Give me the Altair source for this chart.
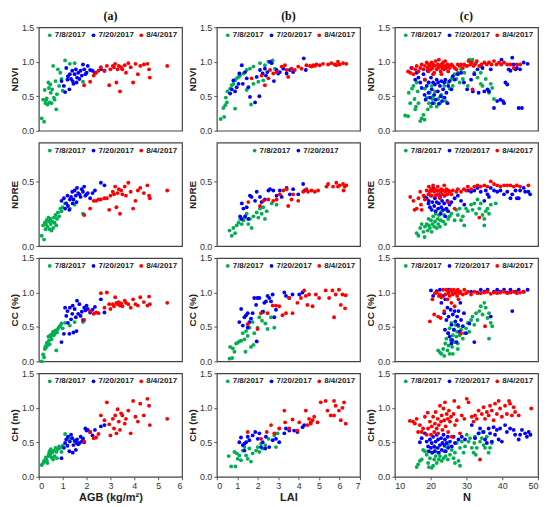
import altair as alt
import pandas as pd

dates = ["7/8/2017", "7/20/2017", "8/4/2017"]
colors = ["#00B050", "#0000FF", "#FF0000"]

# ---------------- column (a): AGB (shared samples across rows) ----------------
agb_g = [0.12,0.18,0.22,0.25,0.28,0.3,0.33,0.36,0.4,0.42,0.45,0.48,0.5,0.53,0.56,
         0.6,0.63,0.66,0.7,0.73,0.76,0.8,0.85,0.9,0.95,1.0,1.1,1.3,1.5,1.85]
ndvi_a_g = [0.18,0.45,0.13,0.59,0.40,0.44,0.47,0.38,0.70,0.62,0.41,0.67,0.55,0.40,0.60,
            0.94,0.48,0.45,0.72,0.31,0.53,0.89,0.65,0.84,0.75,0.58,1.02,0.97,0.98,0.71]
ndre_a_g = [0.08,0.16,0.05,0.18,0.13,0.17,0.20,0.15,0.22,0.19,0.13,0.21,0.17,0.12,0.19,
            0.14,0.22,0.18,0.24,0.16,0.21,0.26,0.23,0.29,0.27,0.30,0.33,0.29,0.32,0.25]
cc_a_g = [0.0,0.10,0.06,0.18,0.22,0.20,0.27,0.23,0.36,0.30,0.25,0.38,0.35,0.32,0.40,
          0.43,0.38,0.40,0.45,0.16,0.42,0.47,0.50,0.52,0.55,0.48,0.56,0.52,0.57,0.57]
ch_a_g = [0.17,0.20,0.23,0.22,0.25,0.28,0.24,0.20,0.30,0.33,0.37,0.32,0.40,0.28,0.35,
          0.25,0.38,0.30,0.42,0.36,0.27,0.40,0.44,0.42,0.36,0.45,0.62,0.55,0.52,0.56]

agb_b = [0.95,1.05,1.1,1.15,1.2,1.22,1.28,1.3,1.35,1.4,1.42,1.45,1.5,1.55,1.58,
         1.6,1.65,1.7,1.75,1.8,1.85,1.9,1.95,2.0,2.05,2.15,2.25,2.35,2.6,2.75]
ndvi_a_b = [0.72,0.65,0.56,0.91,0.74,0.79,0.60,0.82,0.75,0.87,0.72,0.68,0.82,0.89,0.70,
            0.77,0.84,0.75,0.87,0.80,0.96,0.89,0.82,0.84,0.94,0.88,0.87,0.84,0.89,0.87]
ndre_a_b = [0.35,0.37,0.29,0.33,0.39,0.31,0.28,0.36,0.38,0.42,0.33,0.36,0.43,0.39,0.34,
            0.45,0.41,0.40,0.38,0.44,0.42,0.46,0.39,0.40,0.41,0.37,0.41,0.43,0.49,0.47]
cc_a_b = [0.28,0.40,0.78,0.66,0.73,0.56,0.40,0.78,0.61,0.69,0.81,0.42,0.76,0.64,0.44,
          0.88,0.69,0.83,0.66,0.72,0.60,0.78,0.74,0.81,0.76,0.71,0.75,0.79,0.90,0.71]
ch_a_b = [0.27,0.42,0.49,0.54,0.45,0.58,0.37,0.51,0.61,0.56,0.35,0.46,0.52,0.39,0.49,
          0.54,0.47,0.49,0.58,0.51,0.55,0.50,0.70,0.67,0.68,0.65,0.60,0.68,0.73,0.75]

agb_r = [1.9,2.15,2.3,2.4,2.5,2.6,2.75,2.85,2.95,3.0,3.1,3.15,3.2,3.25,3.3,3.35,
         3.4,3.45,3.5,3.6,3.65,3.75,3.85,3.95,4.05,4.15,4.25,4.4,4.55,4.62,4.65,5.38]
ndvi_a_r = [0.66,0.71,0.80,0.84,0.87,0.92,0.87,0.94,0.66,0.89,0.94,0.92,0.97,0.70,0.89,0.94,
            0.57,0.92,0.89,0.95,0.84,0.98,0.92,0.70,0.97,0.82,0.94,0.96,0.97,0.89,0.77,0.94]
ndre_a_r = [0.24,0.29,0.35,0.35,0.36,0.36,0.37,0.37,0.28,0.39,0.42,0.40,0.46,0.30,0.41,0.44,
            0.25,0.43,0.40,0.46,0.39,0.49,0.42,0.29,0.35,0.43,0.45,0.41,0.47,0.39,0.37,0.43]
cc_a_r = [0.60,0.73,0.69,0.71,0.70,0.99,0.78,1.0,0.83,0.76,0.83,0.80,0.93,0.85,0.83,0.86,
          0.81,0.84,0.80,0.88,0.85,0.83,0.78,0.90,0.83,0.81,0.93,0.86,0.81,0.94,0.83,0.85]
ch_a_r = [0.51,0.65,0.56,0.57,0.62,0.89,0.82,1.08,0.76,0.60,0.84,0.70,0.89,0.63,0.98,0.80,
          0.68,0.92,0.89,0.77,0.84,0.96,0.63,1.10,0.87,0.80,1.06,0.89,1.13,1.03,0.75,0.84]

# ---------------- column (b): LAI ----------------
lai_ndvi_g = [(0.19,0.17),(0.36,0.20),(0.32,0.33),(0.41,0.37),(0.49,0.41),(0.44,0.48),(0.52,0.57),
              (0.65,0.61),(0.73,0.66),(0.81,0.68),(0.89,0.73),(0.97,0.76),(1.06,0.78),(1.14,0.80),
              (1.3,0.83),(1.46,0.88),(1.62,0.90),(1.79,0.93),(2.11,0.98),(2.35,0.95),(2.52,1.0),
              (2.73,1.02),(2.84,0.90),(0.89,0.32),(1.67,0.38),(1.46,0.59),(1.79,0.68),(2.03,0.71),(2.27,0.73)]
lai_ndvi_b = [(0.65,0.54),(0.73,0.60),(0.81,0.73),(0.89,0.57),(0.97,0.63),(1.10,0.83),(1.22,0.95),
              (1.27,0.68),(1.38,0.85),(1.46,0.76),(1.54,0.63),(1.62,0.49),(1.87,0.41),(1.95,0.78),
              (2.08,0.50),(2.11,0.88),(2.24,0.83),(2.35,0.90),(2.47,0.85),(2.6,1.0),(2.68,0.98),
              (2.79,0.72),(2.92,0.88),(3.08,0.85),(3.25,0.90),(3.41,0.83),(3.57,0.88),(3.73,0.85),
              (4.25,1.05),(4.35,0.88),(3.0,0.83),(1.06,0.68),(2.4,0.80)]
lai_ndvi_r = [(1.7,0.76),(2.19,0.80),(2.35,0.66),(2.52,0.76),(2.6,0.88),(2.76,0.83),(2.92,0.85),
              (3.17,0.93),(3.33,0.95),(3.41,0.88),(3.49,0.78),(3.65,0.90),(3.81,0.88),(3.98,0.93),
              (4.14,0.90),(4.38,0.95),(4.55,0.94),(4.71,0.95),(4.87,0.96),(5.03,0.95),(5.19,0.97),
              (5.44,0.96),(5.6,0.98),(5.76,0.96),(5.92,1.0),(6.0,0.96),(6.17,0.98),(6.33,0.97),
              (5.84,0.95),(4.63,0.93),(4.79,0.94)]

lai_ndre_g = [(0.62,0.12),(0.73,0.08),(0.81,0.14),(0.89,0.10),(0.97,0.16),(1.06,0.18),(1.14,0.21),
              (1.22,0.17),(1.3,0.20),(1.38,0.22),(1.46,0.25),(1.54,0.17),(1.62,0.21),(1.7,0.14),
              (1.79,0.23),(1.95,0.26),(2.03,0.22),(2.11,0.29),(2.19,0.25),(2.27,0.30),(2.35,0.21),
              (2.44,0.27),(2.68,0.33),(2.92,0.32)]
lai_ndre_b = [(1.14,0.23),(1.22,0.33),(1.3,0.29),(1.46,0.30),(1.62,0.39),(1.7,0.38),(1.87,0.35),
              (1.95,0.42),(2.11,0.38),(2.19,0.34),(2.35,0.36),(2.52,0.43),(2.6,0.44),(2.76,0.43),
              (2.92,0.39),(3.08,0.43),(3.17,0.38),(3.41,0.45),(3.57,0.40),(3.73,0.44),(3.98,0.40),
              (4.22,0.48),(4.3,0.43),(1.38,0.23),(1.54,0.21),(1.22,0.21)]
lai_ndre_r = [(1.54,0.34),(2.11,0.31),(2.27,0.35),(2.52,0.36),(2.76,0.35),(2.92,0.36),(3.08,0.40),
              (3.25,0.43),(3.41,0.44),(3.49,0.31),(3.65,0.36),(3.73,0.40),(3.98,0.35),(4.22,0.42),
              (4.38,0.44),(4.46,0.42),(4.63,0.43),(4.79,0.42),(4.95,0.43),(5.36,0.46),(5.44,0.48),
              (5.68,0.46),(5.84,0.49),(5.92,0.46),(6.0,0.47),(6.17,0.48),(6.25,0.46),(6.33,0.47),(6.2,0.43)]

lai_cc_g = [(0.62,0.04),(0.75,0.05),(0.65,0.21),(0.78,0.19),(0.86,0.14),(0.94,0.26),(1.02,0.27),
            (1.1,0.29),(1.19,0.30),(1.27,0.41),(1.35,0.32),(1.43,0.44),(1.4,0.14),(1.51,0.37),
            (1.59,0.49),(1.67,0.21),(1.75,0.57),(1.83,0.41),(1.99,0.49),(2.08,0.64),(2.21,0.59),
            (2.29,0.72),(2.37,0.55),(2.48,0.47),(2.81,0.49),(2.65,0.64),(1.79,0.24)]
lai_cc_b = [(1.1,0.57),(1.19,0.76),(1.27,0.52),(1.35,0.64),(1.43,0.67),(1.51,0.70),(1.59,0.57),
            (1.67,0.62),(1.75,0.70),(1.83,0.92),(1.92,0.82),(1.99,0.92),(2.08,0.92),(2.24,0.72),
            (2.32,0.85),(2.4,0.87),(2.48,0.95),(2.56,0.92),(2.65,0.87),(2.73,0.97),(2.81,0.64),
            (2.89,0.75),(3.3,1.0),(3.38,0.95),(3.54,0.92),(3.7,0.97),(4.03,0.97),(4.19,1.0),
            (1.95,0.29),(1.51,0.49)]
lai_cc_r = [(1.51,0.54),(1.99,0.47),(2.16,0.70),(2.48,0.70),(2.73,0.81),(2.89,0.81),(3.05,0.80),
            (3.21,0.67),(3.38,0.70),(3.54,0.92),(3.7,0.70),(3.94,0.85),(4.11,0.92),(4.27,1.03),
            (4.35,0.95),(4.43,0.82),(4.51,0.97),(4.68,0.80),(4.84,0.97),(5.0,0.92),(5.32,1.03),
            (5.49,0.92),(5.65,1.03),(5.73,0.64),(5.81,0.97),(5.97,1.04),(6.06,0.82),(6.14,0.97),
            (6.27,0.77),(6.3,0.96)]

lai_ch_g = [(0.58,0.30),(0.7,0.15),(0.91,0.15),(0.86,0.36),(0.97,0.34),(1.02,0.26),(1.1,0.31),
            (1.18,0.24),(1.27,0.38),(1.35,0.43),(1.43,0.31),(1.51,0.26),(1.59,0.41),(1.67,0.22),
            (1.75,0.34),(1.92,0.38),(2.0,0.43),(2.08,0.36),(2.16,0.48),(2.24,0.41),(2.37,0.46),
            (2.53,0.55),(2.81,0.60),(2.89,0.43),(2.97,0.63)]
lai_ch_b = [(1.1,0.50),(1.18,0.57),(1.27,0.46),(1.35,0.38),(1.43,0.50),(1.51,0.58),(1.59,0.53),
            (1.75,0.60),(1.88,0.65),(2.0,0.55),(2.08,0.63),(2.16,0.43),(2.24,0.50),(2.4,0.58),
            (2.56,0.43),(2.73,0.53),(2.89,0.55),(3.05,0.50),(3.3,0.63),(3.38,0.70),(3.54,0.67),
            (3.78,0.67),(3.94,0.65),(4.19,0.72),(4.27,0.75),(2.37,0.41),(1.35,0.48)]
lai_ch_r = [(1.51,0.65),(2.16,0.55),(2.44,0.65),(2.65,0.75),(2.81,0.63),(3.05,0.70),(3.3,0.96),
            (3.34,0.79),(3.54,0.70),(3.7,0.83),(3.94,0.67),(4.03,0.79),(4.35,0.96),(4.43,0.75),
            (4.51,0.84),(4.59,0.79),(4.68,0.82),(4.76,0.87),(4.92,0.79),(5.08,1.08),(5.32,1.1),
            (5.41,0.96),(5.57,0.89),(5.73,1.1),(5.81,1.03),(5.97,0.96),(6.06,0.82),(6.14,1.0),
            (6.22,1.08),(6.3,0.77),(4.59,0.77),(5.73,0.89)]

# ---------------- column (c): N ----------------
n_ndvi_g = [(12.9,0.22),(13.7,0.21),(13.9,0.55),(14.3,0.40),(14.8,0.61),(15.2,0.65),(15.5,0.46),
            (15.7,0.31),(15.9,0.35),(16.1,0.70),(16.4,0.57),(16.6,0.40),(17.1,0.14),(17.5,0.18),
            (18.0,0.23),(18.3,0.16),(18.4,0.61),(18.9,0.48),(19.2,0.31),(19.4,0.70),(19.5,0.40),
            (19.8,0.55),(20.1,0.35),(20.3,0.65),(20.5,0.46),(20.7,0.50),(21.0,0.40),(21.2,0.57),
            (21.7,0.35),(22.1,0.46),(22.6,0.40),(23.0,0.52),(23.5,0.48),(23.8,0.65),(24.2,0.43),
            (24.9,0.70),(25.3,0.61),(25.8,0.75),(26.2,0.65),(26.7,0.82),(27.2,0.75),(27.6,0.84),
            (28.1,0.70),(28.5,0.89),(29.0,0.75),(29.4,0.84),(29.9,0.94),(30.4,0.65),(30.8,1.03),
            (31.3,1.01),(31.7,1.03),(32.2,0.84),(32.7,0.99),(33.1,0.77),(34.0,0.68),(34.5,0.65),
            (35.4,0.75),(36.3,0.55),(36.8,0.68),(37.2,0.62),(37.7,0.46),(34.0,0.84)]
n_ndvi_b = [(14.6,0.91),(15.7,0.74),(16.1,0.84),(16.6,0.77),(17.1,0.70),(17.5,0.62),(18.0,0.82),
            (18.3,0.52),(18.4,0.74),(18.6,0.45),(18.9,0.65),(19.2,0.87),(19.4,0.55),(19.5,0.70),
            (19.8,0.48),(20.1,0.77),(20.3,0.60),(20.5,0.40),(20.7,0.70),(21.0,0.52),(21.2,0.67),
            (21.4,0.45),(21.7,0.74),(22.0,0.57),(22.1,0.70),(22.3,0.39),(22.6,0.65),(22.8,0.50),
            (23.0,0.72),(23.2,0.43),(23.5,0.60),(23.8,0.70),(23.9,0.48),(24.1,0.74),(24.4,0.55),
            (24.7,0.40),(24.9,0.65),(25.3,0.72),(25.8,0.60),(26.2,0.79),(26.7,0.74),(27.6,0.82),
            (28.5,0.84),(29.3,0.70),(30.2,0.60),(31.3,0.74),(32.2,0.82),(33.1,0.89),(34.0,0.94),
            (34.5,0.91),(35.0,0.57),(35.9,0.60),(36.3,0.57),(36.8,0.89),(37.7,0.33),(38.6,0.43),
            (39.5,0.45),(39.8,1.03),(40.2,0.43),(40.5,0.40),(40.9,0.70),(41.4,0.67),(41.8,0.89),
            (42.3,0.87),(42.8,1.06),(43.2,0.96),(43.7,0.89),(44.1,0.91),(44.6,0.33),(45.0,0.89),
            (45.5,0.33),(46.0,0.99),(47.1,0.97),(31.8,0.57),(33.4,0.55)]
n_ndvi_r = [(13.7,0.86),(14.3,0.84),(14.8,0.91),(15.2,0.82),(15.7,0.89),(16.1,0.94),(16.6,0.86),
            (17.1,0.91),(17.5,0.96),(18.0,0.89),(18.4,0.94),(18.9,0.99),(19.2,0.91),(19.4,0.86),
            (19.5,0.96),(19.8,0.94),(20.1,0.89),(20.3,0.99),(20.5,0.91),(20.7,0.96),(21.0,0.84),
            (21.2,0.94),(21.4,1.01),(21.7,0.89),(22.0,0.96),(22.1,0.91),(22.3,1.03),(22.6,0.94),
            (22.8,0.86),(23.0,0.96),(23.2,0.91),(23.5,0.99),(23.8,0.89),(23.9,0.94),(24.1,1.01),
            (24.4,0.91),(24.7,0.96),(24.9,0.86),(25.0,0.94),(25.3,0.91),(25.8,0.96),(26.2,0.94),
            (26.7,0.91),(27.2,0.89),(27.6,0.96),(28.1,0.94),(28.5,0.96),(29.0,0.91),(29.4,0.96),
            (30.2,0.94),(30.6,1.01),(31.1,0.96),(31.5,0.99),(32.0,0.94),(31.7,0.60),(32.4,0.96),
            (32.9,1.01),(33.6,0.94),(34.2,0.96),(35.0,0.99),(35.7,0.96),(36.3,0.99),(37.0,0.96),
            (37.7,1.01),(38.4,0.96),(39.1,0.99),(39.7,0.96),(40.5,0.99),(41.4,0.96),(42.3,0.96),
            (43.2,0.91),(44.1,0.96),(45.0,0.96),(20.7,0.82),(23.0,0.82),(18.4,0.74)]

n_ndre_g = [(16.1,0.10),(16.6,0.08),(17.1,0.14),(17.5,0.17),(18.0,0.11),(18.3,0.07),(18.4,0.15),
            (18.9,0.17),(19.2,0.12),(19.4,0.21),(19.5,0.16),(19.8,0.14),(20.1,0.20),(20.3,0.11),
            (20.5,0.17),(20.7,0.23),(21.0,0.15),(21.2,0.19),(21.4,0.25),(21.7,0.14),(22.0,0.21),
            (22.1,0.17),(22.3,0.24),(22.6,0.15),(22.8,0.20),(23.0,0.27),(23.5,0.19),(23.8,0.24),
            (24.1,0.17),(24.4,0.28),(24.9,0.21),(25.3,0.23),(25.8,0.25),(26.7,0.20),(27.2,0.28),
            (27.6,0.24),(28.1,0.29),(28.5,0.20),(29.0,0.23),(29.4,0.16),(29.9,0.29),(30.4,0.27),
            (31.3,0.32),(31.7,0.28),(32.2,0.33),(32.7,0.25),(33.1,0.36),(33.6,0.29),(34.0,0.33),
            (34.5,0.24),(35.0,0.21),(35.4,0.27),(35.9,0.29),(36.3,0.25),(36.8,0.32),(38.2,0.33),
            (35.0,0.16)]
n_ndre_b = [(18.4,0.38),(18.9,0.37),(19.4,0.33),(19.5,0.35),(19.8,0.30),(20.1,0.39),(20.3,0.28),
            (20.5,0.34),(20.7,0.45),(21.0,0.31),(21.2,0.37),(21.4,0.27),(21.7,0.34),(22.0,0.40),
            (22.1,0.29),(22.3,0.33),(22.6,0.38),(22.8,0.25),(23.0,0.30),(23.2,0.35),(23.5,0.28),
            (23.8,0.33),(23.9,0.39),(24.1,0.23),(24.4,0.29),(24.7,0.35),(24.9,0.27),(25.3,0.32),
            (25.8,0.34),(26.7,0.37),(27.6,0.39),(28.5,0.35),(29.4,0.32),(30.4,0.43),(31.3,0.42),
            (32.2,0.43),(33.1,0.45),(34.0,0.42),(35.0,0.35),(35.4,0.43),(35.9,0.40),(36.8,0.45),
            (37.7,0.43),(38.6,0.42),(39.5,0.43),(40.5,0.40),(41.4,0.42),(42.3,0.37),(42.8,0.40),
            (43.7,0.43),(44.1,0.37),(44.6,0.37),(45.0,0.43),(46.0,0.45),(46.4,0.42),(47.3,0.42),
            (47.8,0.40),(36.3,0.38)]
n_ndre_r = [(14.3,0.38),(15.2,0.35),(15.5,0.28),(16.1,0.29),(16.6,0.37),(17.1,0.42),(17.3,0.32),
            (17.5,0.28),(18.0,0.39),(18.4,0.36),(18.9,0.43),(19.4,0.40),(19.5,0.46),(19.8,0.42),
            (20.1,0.44),(20.3,0.39),(20.5,0.43),(20.7,0.47),(21.0,0.42),(21.2,0.44),(21.4,0.39),
            (21.7,0.43),(22.0,0.46),(22.1,0.40),(22.3,0.43),(22.6,0.37),(22.8,0.42),(23.0,0.44),
            (23.2,0.40),(23.5,0.43),(23.8,0.47),(23.9,0.39),(24.1,0.42),(24.4,0.44),(24.7,0.40),
            (24.9,0.34),(25.0,0.43),(25.3,0.42),(25.8,0.40),(26.2,0.43),(26.7,0.29),(27.2,0.42),
            (27.6,0.44),(28.5,0.42),(29.3,0.44),(29.9,0.43),(30.4,0.46),(31.3,0.44),(32.2,0.46),
            (33.1,0.47),(33.6,0.22),(34.0,0.46),(35.0,0.47),(35.9,0.46),(36.8,0.50),(37.7,0.48),
            (38.6,0.47),(39.5,0.46),(40.5,0.47),(41.4,0.47),(42.3,0.47),(43.2,0.46),(44.1,0.47),
            (45.0,0.46),(47.3,0.47)]

n_cc_g = [(22.1,0.16),(22.6,0.13),(23.0,0.11),(23.5,0.18),(23.8,0.08),(24.1,0.26),(24.4,0.33),
          (24.7,0.16),(24.9,0.41),(25.0,0.23),(25.3,0.48),(25.6,0.31),(25.8,0.56),(26.0,0.21),
          (26.2,0.38),(26.5,0.46),(26.7,0.28),(26.9,0.53),(27.2,0.36),(27.4,0.43),(27.6,0.26),
          (27.8,0.51),(28.1,0.38),(28.5,0.46),(29.0,0.33),(29.4,0.41),(29.9,0.48),(30.4,0.56),
          (30.8,0.43),(31.3,0.60),(31.7,0.65),(32.2,0.53),(32.7,0.70),(33.1,0.60),(33.6,0.73),
          (34.0,0.80),(34.5,0.68),(35.0,0.85),(35.4,0.78),(35.9,0.63),(36.3,0.70),(36.8,0.56),
          (37.2,0.51),(36.3,0.33),(26.2,0.11),(25.3,0.11),(27.6,0.18)]
n_cc_b = [(20.1,1.03),(20.7,0.95),(21.7,1.02),(22.6,1.04),(23.0,0.85),(23.5,0.95),(23.8,0.70),
          (24.1,0.90),(24.4,0.60),(24.7,0.78),(24.9,0.41),(25.0,0.65),(25.3,0.36),(25.6,0.75),
          (25.8,0.53),(26.0,0.31),(26.2,0.68),(26.5,0.46),(26.7,0.73),(26.9,0.58),(27.2,0.28),
          (27.4,0.65),(27.6,0.53),(27.8,0.73),(28.1,0.43),(28.3,0.85),(28.5,0.60),(29.0,0.51),
          (29.3,0.70),(29.9,0.41),(30.8,0.55),(32.2,0.28),(33.1,1.0),(34.0,1.04),(35.0,1.01),
          (35.9,1.04),(36.8,0.65),(37.7,1.01),(38.6,1.04),(39.5,1.01),(40.5,1.04),(41.4,1.0),
          (42.3,1.04),(42.8,0.73),(43.7,1.01),(44.6,1.04),(46.0,1.01),(47.1,1.04),(31.3,1.01),
          (24.9,1.04),(24.0,0.46),(25.8,0.26)]
n_cc_r = [(20.5,0.90),(21.0,0.68),(21.7,1.0),(22.1,0.65),(22.6,0.97),(22.8,0.63),(23.0,0.93),
          (23.5,1.04),(23.8,0.73),(24.1,0.97),(24.4,1.04),(24.7,0.90),(24.9,1.01),(25.0,0.99),
          (25.3,0.95),(25.6,1.04),(25.8,0.85),(26.0,1.01),(26.2,0.97),(26.5,1.04),(26.7,0.80),
          (26.9,0.99),(27.2,1.01),(27.4,0.95),(27.6,1.04),(27.8,0.90),(28.1,0.99),(28.3,1.01),
          (28.5,0.41),(29.0,0.97),(29.4,1.04),(29.9,0.99),(30.4,1.01),(31.3,0.97),(32.2,1.01),
          (33.1,0.99),(34.0,0.99),(35.0,1.0),(35.2,0.51),(35.9,1.01),(36.8,0.98),(37.7,1.0),
          (38.6,0.99),(39.5,1.0),(40.5,1.01),(41.4,0.99),(42.3,1.0),(43.2,1.01),(44.1,0.99),
          (45.0,1.0),(46.0,1.01),(19.8,0.58),(21.2,0.99),(22.3,0.95)]

n_ch_g = [(16.1,0.14),(16.5,0.18),(17.0,0.23),(17.5,0.25),(17.9,0.39),(18.4,0.37),(18.9,0.32),
          (19.3,0.20),(19.5,0.14),(19.8,0.27),(20.3,0.13),(20.7,0.16),(20.3,0.35),(21.0,0.25),
          (21.4,0.30),(21.7,0.20),(22.1,0.35),(22.3,0.25),(22.6,0.30),(23.1,0.23),(23.6,0.27),
          (23.8,0.37),(24.2,0.30),(24.8,0.25),(25.4,0.32),(25.9,0.39),(26.4,0.27),(26.8,0.35),
          (27.3,0.49),(27.8,0.23),(28.2,0.42),(28.7,0.51),(29.2,0.35),(29.6,0.44),(30.1,0.61),
          (30.6,0.51),(31.0,0.56),(31.5,0.42),(32.0,0.35),(32.2,0.49),(32.4,0.58),(32.6,0.32),
          (32.9,0.42),(33.4,0.63),(33.8,0.51),(34.3,0.56),(34.5,0.65),(34.8,0.46),(35.2,0.42),
          (35.7,0.58),(36.2,0.35),(36.6,0.42),(37.1,0.49),(24.0,0.44),(24.9,0.46),(26.8,0.20),
          (28.2,0.16),(21.2,0.42)]
n_ch_b = [(17.0,0.50),(17.5,0.56),(18.4,0.63),(18.9,0.51),(19.3,0.44),(19.5,0.37),(19.8,0.54),
          (20.1,0.42),(20.3,0.49),(20.5,0.35),(20.7,0.58),(21.0,0.44),(21.2,0.37),(21.4,0.51),
          (21.7,0.61),(22.0,0.42),(22.1,0.54),(22.3,0.35),(22.6,0.46),(22.9,0.56),(23.1,0.39),
          (23.3,0.49),(23.6,0.61),(23.8,0.46),(24.0,0.54),(24.2,0.37),(24.5,0.49),(24.8,0.58),
          (24.9,0.42),(25.4,0.51),(25.9,0.44),(26.4,0.58),(26.8,0.49),(27.8,0.54),(28.7,0.58),
          (29.6,0.54),(31.5,0.75),(32.4,0.56),(33.4,0.63),(33.8,0.70),(34.8,0.65),(35.2,0.54),
          (35.7,0.49),(36.2,0.70),(36.6,0.63),(37.1,0.51),(37.6,0.72),(38.0,0.61),(38.5,0.68),
          (39.0,0.54),(39.4,0.70),(39.9,0.51),(40.8,0.75),(41.3,0.65),(42.2,0.70),(43.2,0.68),
          (43.6,0.61),(44.6,0.54),(45.0,0.61),(45.5,0.68),(46.4,0.63),(46.9,0.58),(47.4,0.65),
          (47.9,0.61)]
n_ch_r = [(14.2,0.81),(15.1,0.80),(15.6,0.77),(16.1,0.84),(16.5,0.65),(17.0,0.75),(17.5,0.65),
          (17.9,0.70),(18.4,0.87),(18.9,0.61),(19.2,0.93),(19.3,0.70),(19.8,0.80),(20.1,0.61),
          (20.3,0.73),(20.7,0.87),(21.0,0.65),(21.2,0.77),(21.4,0.94),(21.7,0.70),(22.0,0.84),
          (22.1,0.63),(22.3,0.75),(22.6,1.03),(22.9,0.80),(23.1,0.89),(23.3,0.68),(23.6,0.99),
          (23.8,0.82),(24.0,1.08),(24.2,0.73),(24.5,0.91),(24.8,0.84),(24.9,0.65),(25.1,0.96),
          (25.4,0.80),(25.7,0.87),(25.9,0.58),(26.4,0.91),(26.6,1.10),(26.8,0.75),(27.3,0.82),
          (27.8,1.01),(28.2,0.63),(28.7,0.89),(29.4,0.84),(30.1,1.13),(30.6,1.08),(31.5,0.87),
          (32.0,0.80),(32.4,0.89),(32.9,0.84),(33.4,0.96),(33.8,0.25),(34.3,0.91),(34.8,1.01),
          (35.2,0.84),(35.7,0.94),(36.2,0.89),(36.6,1.03),(37.1,0.96),(37.6,0.82),(38.0,1.06),
          (38.5,0.91),(39.0,1.10),(39.4,0.99),(39.9,0.87),(40.8,1.03),(41.3,0.91),(41.9,1.10),
          (42.2,1.06),(42.7,0.89),(43.2,1.01),(43.6,0.94),(44.6,0.89),(48.1,0.99)]

col_titles = ["(a)", "(b)", "(c)"]
row_titles = ["NDVI", "NDRE", "CC (%)", "CH (m)"]
x_titles = ["AGB (kg/m²)", "LAI", "N"]
x_domains = [[0, 6], [0, 7], [10, 50]]
x_ticks = [[0, 1, 2, 3, 4, 5, 6], [0, 1, 2, 3, 4, 5, 6, 7], [10, 20, 30, 40, 50]]
y_domains = [[0, 1.5], [0, 0.8], [0, 1.5], [0, 1.5]]
y_ticks = [[0, 0.5, 1.0, 1.5], [0, 0.5], [0, 0.5, 1.0, 1.5], [0, 0.5, 1.0, 1.5]]

col_a = [
    [list(zip(agb_g, ndvi_a_g)), list(zip(agb_b, ndvi_a_b)), list(zip(agb_r, ndvi_a_r))],
    [list(zip(agb_g, ndre_a_g)), list(zip(agb_b, ndre_a_b)), list(zip(agb_r, ndre_a_r))],
    [list(zip(agb_g, cc_a_g)), list(zip(agb_b, cc_a_b)), list(zip(agb_r, cc_a_r))],
    [list(zip(agb_g, ch_a_g)), list(zip(agb_b, ch_a_b)), list(zip(agb_r, ch_a_r))],
]
col_b = [
    [lai_ndvi_g, lai_ndvi_b, lai_ndvi_r],
    [lai_ndre_g, lai_ndre_b, lai_ndre_r],
    [lai_cc_g, lai_cc_b, lai_cc_r],
    [lai_ch_g, lai_ch_b, lai_ch_r],
]
col_c = [
    [n_ndvi_g, n_ndvi_b, n_ndvi_r],
    [n_ndre_g, n_ndre_b, n_ndre_r],
    [n_cc_g, n_cc_b, n_cc_r],
    [n_ch_g, n_ch_b, n_ch_r],
]
columns_data = [col_a, col_b, col_c]

FONT = "Liberation Sans"
W, H = 144, 104


def panel(r, c):
    rows = []
    for d, pts in zip(dates, columns_data[c][r]):
        for x, y in pts:
            rows.append({"x": x, "y": y, "date": d})
    df = pd.DataFrame(rows)
    bottom = r == 3
    if bottom:
        xaxis = alt.Axis(values=x_ticks[c], title=x_titles[c], domain=False, grid=False,
                         tickSize=3, labelPadding=2, labelFontSize=9, labelFont=FONT,
                         labelColor="#333", titleFont=FONT, titleFontSize=11,
                         titleFontWeight="bold", titleColor="#222", titlePadding=1)
    else:
        xaxis = alt.Axis(labels=False, ticks=False, domain=False, grid=False, title=None)
    yaxis = alt.Axis(values=y_ticks[r], format=".1f", title=row_titles[r], domain=False,
                     grid=False, tickSize=3, labelPadding=2, labelFontSize=9, labelFont=FONT,
                     labelColor="#333", titleFont=FONT, titleFontSize=10,
                     titleFontWeight="bold", titleColor="#222", titlePadding=2)
    if r == 1 and c == 1:
        leg_vals, lx = dates[:2], 34
    else:
        leg_vals, lx = dates, 7
    legend = alt.Legend(orient="none", legendX=lx, legendY=4, direction="horizontal",
                        title=None, values=leg_vals, symbolType="circle", symbolSize=14,
                        symbolStrokeWidth=0, labelFontSize=8, labelFont=FONT,
                        labelFontWeight="bold", labelColor="#222", labelOffset=1,
                        columnPadding=3, gridAlign="none", padding=0)
    ch = alt.Chart(df).mark_circle(size=15, opacity=1).encode(
        x=alt.X("x:Q", scale=alt.Scale(domain=x_domains[c], nice=False, zero=False), axis=xaxis),
        y=alt.Y("y:Q", scale=alt.Scale(domain=y_domains[r], nice=False), axis=yaxis),
        color=alt.Color("date:N", scale=alt.Scale(domain=dates, range=colors), legend=legend),
    )
    props = dict(width=W, height=H)
    if r == 0:
        props["title"] = alt.TitleParams(col_titles[c], font="Liberation Serif", fontSize=12,
                                         fontWeight="bold", color="#111", offset=0,
                                         anchor="middle")
    return ch.properties(**props)


panels = [panel(r, c) for r in range(4) for c in range(3)]

chart = alt.concat(*panels, columns=3, spacing={"row": 12, "column": 35}, bounds="flush") \
    .resolve_scale(color="independent") \
    .properties(padding={"left": 0, "top": 0, "right": 2, "bottom": 2}) \
    .configure_view(stroke="#444", strokeWidth=1.2) \
    .configure_axis(tickColor="#555")

chart.save("out.html", embed_options={"renderer": "svg", "actions": False})
